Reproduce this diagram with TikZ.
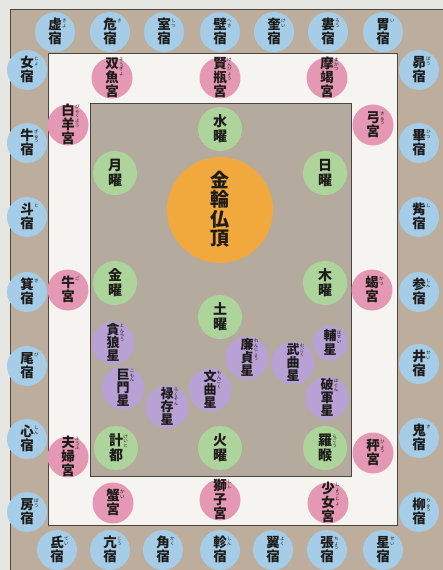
\documentclass[tikz,border=0pt]{standalone}
\usepackage{fontspec}
\setmainfont{Noto Sans CJK JP}
\usepackage{xcolor}
\usepackage{tikz}

\definecolor{kami}{HTML}{E6E6E3}
\definecolor{waku}{HTML}{BCAD9C}
\definecolor{naka}{HTML}{B5AA9E}
\definecolor{shiro}{HTML}{F5F4F1}
\definecolor{sen}{HTML}{4A4540}
\definecolor{ao}{HTML}{A6CDE8}
\definecolor{momo}{HTML}{E498B3}
\definecolor{midori}{HTML}{ADD49A}
\definecolor{murasaki}{HTML}{B8A1D4}
\definecolor{daidai}{HTML}{F1A93E}
\definecolor{sumi}{HTML}{1E1C1A}

% vertical text with small ruby beside the first character
\newbox\tatemain
\newbox\tateruby
\newcommand{\furifont}{\fontsize{4.5}{5}\mdseries\selectfont}
\def\tateloop#1{\ifx\relax#1\else\hbox to 1em{\hss\vrule height .86em depth .16em width 0pt\smash{#1}\hss}\expandafter\tateloop\fi}
\newcommand{\tate}[2]{%
  \setbox\tatemain=\vbox{\offinterlineskip\tateloop#1\relax}%
  \setbox\tateruby=\vtop{\offinterlineskip\furifont\tateloop#2\relax}%
  \raisebox{\dimexpr(\dp\tatemain-\ht\tatemain)/2\relax}[0pt][0pt]{%
    \copy\tatemain\rlap{\hspace{0.3pt}\raisebox{\dimexpr\ht\tatemain-\ht\tateruby-0.5pt\relax}{\copy\tateruby}}}}

\tikzset{
  shuku/.style={circle, fill=ao, inner sep=0pt, minimum size=40pt, text=sumi, font=\fontsize{13.5}{14}\bfseries\selectfont},
  kyu/.style={circle, fill=momo, inner sep=0pt, minimum size=41pt, text=sumi, font=\fontsize{13.5}{14}\bfseries\selectfont},
  yo/.style={circle, fill=midori, inner sep=0pt, minimum size=44pt, text=sumi, font=\fontsize{14}{15}\bfseries\selectfont},
  hoshi/.style={circle, fill=murasaki, inner sep=0pt, minimum size=43pt, text=sumi, font=\fontsize{13}{14}\bfseries\selectfont},
  butcho/.style={circle, fill=daidai, inner sep=0pt, minimum size=106pt, text=sumi, font=\fontsize{19}{20}\bfseries\selectfont}
}

\begin{document}
\begin{tikzpicture}[x=1pt, y=-1pt]
    \useasboundingbox (0, 0) rectangle (443, 570);
    \clip (0, 0) rectangle (443, 570);
    \fill [kami] (0, 0) rectangle (443, 570);

    \draw [fill=waku, draw=sen, line width=1pt] (10, 9) rectangle (470, 600);
    \draw [fill=shiro, draw=sen, line width=0.8pt] (48, 53) rectangle (397, 525);
    \draw [fill=naka, draw=sen, line width=1pt] (90, 103) rectangle (351, 476);

    \node (kyo) at (55, 32) [shuku] {\tate{虚宿}{きょ}};
    \node (ki) at (110, 32) [shuku] {\tate{危宿}{き}};
    \node (shitsu) at (164, 32) [shuku] {\tate{室宿}{しつ}};
    \node (heki) at (220, 32) [shuku] {\tate{壁宿}{へき}};
    \node (kei) at (274, 32) [shuku] {\tate{奎宿}{けい}};
    \node (rou) at (328, 32) [shuku] {\tate{婁宿}{ろう}};
    \node (i) at (383, 32) [shuku] {\tate{胃宿}{い}};

    \node (bou) at (419, 70) [shuku] {\tate{昴宿}{ぼう}};
    \node (hitsu) at (419, 143) [shuku] {\tate{畢宿}{ひつ}};
    \node (shi) at (419, 217) [shuku] {\tate{觜宿}{し}};
    \node (shin) at (419, 292) [shuku] {\tate{参宿}{しん}};
    \node (sei) at (419, 364) [shuku] {\tate{井宿}{せい}};
    \node (kiju) at (419, 438) [shuku] {\tate{鬼宿}{き}};
    \node (ryu) at (419, 512) [shuku] {\tate{柳宿}{りゅう}};

    \node (seiju) at (383, 550) [shuku] {\tate{星宿}{せい}};
    \node (cho) at (327, 550) [shuku] {\tate{張宿}{ちょう}};
    \node (yoku) at (273, 550) [shuku] {\tate{翼宿}{よく}};
    \node (shinju) at (220, 550) [shuku] {\tate{軫宿}{しん}};
    \node (kaku) at (163, 550) [shuku] {\tate{角宿}{かく}};
    \node (kou) at (110, 550) [shuku] {\tate{亢宿}{こう}};
    \node (tei) at (57, 550) [shuku] {\tate{氐宿}{てい}};

    \node (bouju) at (27, 512) [shuku] {\tate{房宿}{ぼう}};
    \node (shinshuku) at (27, 439) [shuku] {\tate{心宿}{しん}};
    \node (bi) at (27, 366) [shuku] {\tate{尾宿}{び}};
    \node (kiboshi) at (27, 292) [shuku] {\tate{箕宿}{き}};
    \node (to) at (27, 217) [shuku] {\tate{斗宿}{と}};
    \node (gyu) at (27, 143) [shuku] {\tate{牛宿}{ぎゅう}};
    \node (jo) at (27, 70) [shuku] {\tate{女宿}{じょ}};

    \node (sougyo) at (112, 78) [kyu] {\tate{双魚宮}{そうぎょ}};
    \node (kenbyo) at (220, 78) [kyu] {\tate{賢瓶宮}{けんびょう}};
    \node (makatsu) at (327, 78) [kyu] {\tate{摩竭宮}{まかつ}};
    \node (kyugu) at (373, 125) [kyu] {\tate{弓宮}{きゅう}};
    \node (katsu) at (372, 290) [kyu] {\tate{蝎宮}{かつ}};
    \node (hyo) at (373, 453) [kyu] {\tate{秤宮}{ひょう}};
    \node (shojo) at (328, 503) [kyu] {\tate{少女宮}{しょうじょ}};
    \node (shishi) at (220, 500) [kyu] {\tate{獅子宮}{しし}};
    \node (kai) at (113, 503) [kyu] {\tate{蟹宮}{かい}};
    \node (fufu) at (68, 457) [kyu] {\tate{夫婦宮}{ふうふ}};
    \node (go) at (68, 290) [kyu] {\tate{牛宮}{ご}};
    \node (byakuyo) at (68, 125) [kyu] {\tate{白羊宮}{びゃくよう}};

    \node (sui) at (220, 129) [yo] {\tate{水曜}{}};
    \node (getsu) at (115, 173) [yo] {\tate{月曜}{}};
    \node (nichi) at (325, 173) [yo] {\tate{日曜}{}};
    \node (kin) at (115, 283) [yo] {\tate{金曜}{}};
    \node (moku) at (325, 283) [yo] {\tate{木曜}{}};
    \node (do) at (220, 317) [yo] {\tate{土曜}{}};
    \node (keito) at (116, 448) [yo] {\tate{計都}{けいと}};
    \node (ka) at (220, 448) [yo] {\tate{火曜}{}};
    \node (ragou) at (325, 448) [yo] {\tate{羅睺}{らごう}};

    \node (tonrou) at (113, 343) [hoshi] {\tate{貪狼星}{とんろう}};
    \node (komon) at (123, 388) [hoshi] {\tate{巨門星}{こもん}};
    \node (rokuzon) at (167, 407) [hoshi] {\tate{禄存星}{ろくぞん}};
    \node (mongoku) at (210, 390) [hoshi] {\tate{文曲星}{もんごく}};
    \node (renjou) at (247, 358) [hoshi] {\tate{廉貞星}{れんじょう}};
    \node (mugoku) at (293, 363) [hoshi] {\tate{武曲星}{むごく}};
    \node (hagun) at (327, 398) [hoshi] {\tate{破軍星}{はぐん}};
    \node (hosei) at (330, 343) [hoshi, minimum size=35pt] {\tate{輔星}{ほせい}};

    \node (kinrin) at (220, 210) [butcho] {\tate{金輪仏頂}{}};
\end{tikzpicture}
\end{document}
